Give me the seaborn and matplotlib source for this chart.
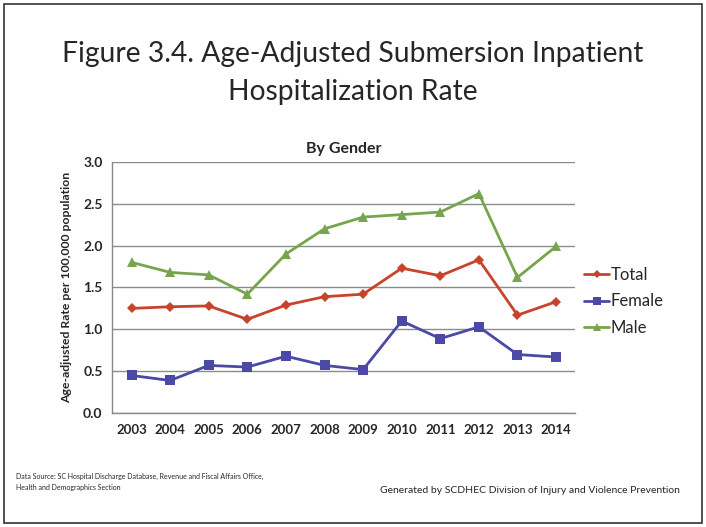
import pandas as pd
import numpy as np
import seaborn as sns
import matplotlib.pyplot as plt
from matplotlib.patches import Rectangle

# Data
years = ['2003', '2004', '2005', '2006', '2007', '2008', '2009', '2010', '2011', '2012', '2013', '2014']
total = [1.25, 1.27, 1.28, 1.12, 1.29, 1.39, 1.42, 1.73, 1.64, 1.83, 1.17, 1.33]
female = [0.45, 0.39, 0.57, 0.55, 0.68, 0.57, 0.52, 1.10, 0.89, 1.03, 0.70, 0.67]
male = [1.80, 1.68, 1.65, 1.42, 1.90, 2.20, 2.34, 2.37, 2.40, 2.62, 1.62, 1.99]
series_names = ['Total', 'Female', 'Male']
y_ticks = [0.0, 0.5, 1.0, 1.5, 2.0, 2.5, 3.0]

df = pd.DataFrame({'Year': years * 3,
                   'Rate': total + female + male,
                   'Series': np.repeat(series_names, len(years))})

sns.set_style('white')
plt.rcParams['font.family'] = ['Lato', 'DejaVu Sans']

colors = {'Total': '#C8432B', 'Female': '#4A4AA6', 'Male': '#77A54E'}
markers = {'Total': 'D', 'Female': 's', 'Male': '^'}
msizes = {'Total': 5, 'Female': 7, 'Male': 7}

fig = plt.figure(figsize=(7.06, 5.27), dpi=100)
ax = fig.add_axes([0.159, 0.216, 0.656, 0.477])

sns.lineplot(data=df, x='Year', y='Rate', hue='Series', style='Series',
             palette=colors, markers=markers, dashes=False, linewidth=2,
             markeredgewidth=0, ax=ax, legend=False)
for line, name in zip(ax.get_lines(), series_names):
    line.set_markersize(msizes[name])

ax.set_xlim(-0.5, len(years) - 0.5)
ax.set_ylim(0, 3.0)
ax.set_yticks(y_ticks)
ax.set_yticklabels([f'{v:.1f}' for v in y_ticks], fontweight='bold', fontsize=10)
ax.set_xticks(range(len(years)))
ax.set_xticklabels(years, fontweight='bold', fontsize=9.5)
ax.set_xticks(np.arange(-0.5, len(years)), minor=True)
ax.tick_params(axis='x', which='major', length=0, pad=8)
ax.tick_params(axis='x', which='minor', length=4, color='#888888', width=1)
ax.tick_params(axis='y', length=4, color='#888888', width=1, pad=3)
ax.grid(axis='y', color='#8c8c8c', linewidth=1)
ax.set_axisbelow(True)
for s in ['top', 'right']:
    ax.spines[s].set_visible(False)
for s in ['left', 'bottom']:
    ax.spines[s].set_color('#888888')
    ax.spines[s].set_linewidth(1)
ax.set_xlabel('')
ax.set_ylabel('Age-adjusted Rate per 100,000 population', fontweight='bold', fontsize=8.8, labelpad=8)
ax.set_title('By Gender', fontweight='bold', fontsize=11.5, pad=6)

# legend
handles = [plt.Line2D([], [], color=colors[n], marker=markers[n], markersize=msizes[n] - 1,
                      linewidth=2, markeredgewidth=0) for n in series_names]
fig.legend(handles, series_names, loc='upper left', bbox_to_anchor=(0.818, 0.506),
           frameon=False, fontsize=12, handlelength=1.5, handletextpad=0.1,
           labelspacing=0.62, borderaxespad=0)

fig.text(0.5, 0.897, 'Figure 3.4. Age-Adjusted Submersion Inpatient', ha='center', va='center', fontsize=20.3)
fig.text(0.5, 0.826, 'Hospitalization Rate', ha='center', va='center', fontsize=20.3)
fig.text(0.022, 0.085, 'Data Source: SC Hospital Discharge Database, Revenue and Fiscal Affairs Office,\nHealth and Demographics Section',
         ha='left', va='center', fontsize=5.0, linespacing=1.6)
fig.text(0.538, 0.07, 'Generated by SCDHEC Division of Injury and Violence Prevention',
         ha='left', va='center', fontsize=7.5)

fig.patches.append(Rectangle((0.005, 0.008), 0.99, 0.985, transform=fig.transFigure,
                             fill=False, edgecolor='#333333', linewidth=1.2))

fig.savefig('out.png', dpi=100)
